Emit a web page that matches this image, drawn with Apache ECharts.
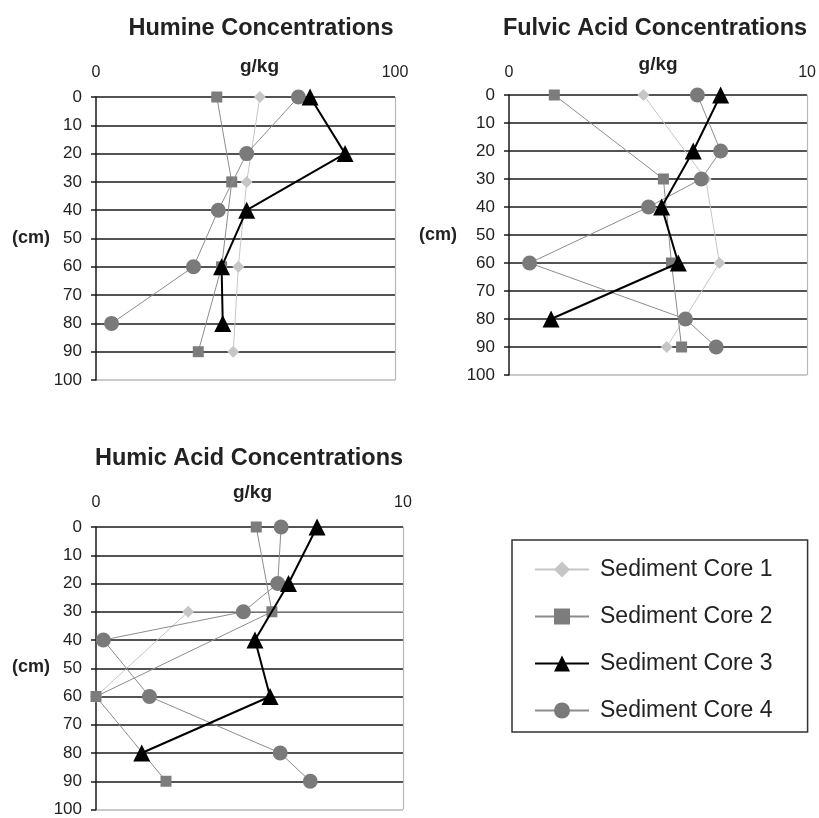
<!DOCTYPE html>
<html>
<head>
<meta charset="utf-8">
<script src="https://cdn.jsdelivr.net/npm/echarts@6/dist/echarts.min.js"></script>
<style>
html,body{margin:0;padding:0;background:#fff;}
#c{width:819px;height:818px;}
</style>
</head>
<body>
<div id="c"></div>
<script>
// Depths (cm) used by all panels
const depths = [0, 10, 20, 30, 40, 50, 60, 70, 80, 90];
const yTicks = [0, 10, 20, 30, 40, 50, 60, 70, 80, 90, 100];
const seriesNames = ['Sediment Core 1', 'Sediment Core 2', 'Sediment Core 3', 'Sediment Core 4'];
const panelTitles = ['Humine Concentrations', 'Fulvic Acid Concentrations', 'Humic Acid Concentrations'];
const xMax = [100, 10, 10];

// Humine (g/kg)
const humineCore1 = [54.8, null, null, 50.4, null, null, 47.6, null, null, 45.9];
const humineCore2 = [40.4, null, null, 45.4, null, null, 42.0, null, null, 34.2];
const humineCore3 = [71.6, null, 83.3, null, 50.4, null, 42.0, null, 42.4, null];
const humineCore4 = [67.7, null, 50.4, null, 40.9, null, 32.6, null, 5.2, null];

// Fulvic acid (g/kg)
const fulvicCore1 = [4.51, null, null, 6.6, null, null, 7.06, null, null, 5.29];
const fulvicCore2 = [1.52, null, null, 5.18, null, null, 5.45, null, null, 5.79];
const fulvicCore3 = [7.10, null, 6.18, null, 5.12, null, 5.68, null, 1.41, null];
const fulvicCore4 = [6.32, null, 7.10, 6.45, 4.68, null, 0.69, null, 5.92, 6.95];

// Humic acid (g/kg); core 1 line runs off the right edge at 30 cm
const humicCore1Depths = [30, 30, 60];
const humicCore1 = [10.25, 3.0, 0];
const humicCore2 = [5.22, null, null, 5.73, null, null, 0, null, null, 2.28];
const humicCore3 = [7.20, null, 6.27, null, 5.18, null, 5.67, null, 1.49, null];
const humicCore4 = [6.03, null, 5.92, 4.80, 0.24, null, 1.74, null, 6.0, 6.98];

const FONT = '"Liberation Sans", Arial, sans-serif';

function pairs(vals, ds) {
  const d = ds || depths;
  const out = [];
  vals.forEach((v, i) => { if (v !== null) out.push([v, d[i]]); });
  return out;
}

const styles = [
  { symbol: 'diamond', symbolSize: 12, color: '#c6c6c6', line: '#c6c6c6', width: 1, z: 2 },
  { symbol: 'rect', symbolSize: 11, color: '#7c7c7c', line: '#8c8c8c', width: 1, z: 3 },
  { symbol: 'triangle', symbolSize: 17, color: '#000000', line: '#000000', width: 2, z: 5 },
  { symbol: 'circle', symbolSize: 15, color: '#7a7a7a', line: '#8c8c8c', width: 1, z: 4 }
];

const grids = [
  { left: 96, top: 97, width: 299, height: 283 },
  { left: 509, top: 95, width: 301, height: 280 },
  { left: 96, top: 527, width: 307, height: 285 }
];

const panelData = [
  [pairs(humineCore1), pairs(humineCore2), pairs(humineCore3), pairs(humineCore4)],
  [pairs(fulvicCore1), pairs(fulvicCore2), pairs(fulvicCore3), pairs(fulvicCore4)],
  [pairs(humicCore1, humicCore1Depths), pairs(humicCore2), pairs(humicCore3), pairs(humicCore4)]
];

const gridLineColors = yTicks.map((t, i) => i === yTicks.length - 1 ? '#b8b8b8' : '#1a1a1a');
const nameGaps = [21, 21, 25];
const nameShift = [28, 0, 6];
const labelMargins = [16, 14, 16];

const xAxes = grids.map((g, i) => ({
  type: 'value', gridIndex: i, position: 'top', min: 0, max: xMax[i], interval: xMax[i],
  name: 'g/kg', nameLocation: 'middle', nameGap: nameGaps[i], nameMoveOverlap: false,
  nameTextStyle: { fontFamily: FONT, fontWeight: 'bold', fontSize: 19, color: '#222', padding: [0, 0, 0, nameShift[i]] },
  axisLine: { show: false, onZero: false },
  axisTick: { show: false },
  axisLabel: { fontFamily: FONT, fontSize: 16, color: '#222', margin: labelMargins[i] },
  splitLine: { show: true, lineStyle: { color: ['rgba(0,0,0,0)', '#b8b8b8'], width: 1.2 } }
}));

const yAxes = grids.map((g, i) => ({
  type: 'value', gridIndex: i, inverse: true, min: 0, max: 100, interval: 10,
  axisLine: { show: true, onZero: false, lineStyle: { color: '#1a1a1a', width: 1.5 } },
  axisTick: { show: true, length: 5, lineStyle: { color: '#1a1a1a', width: 1.5 } },
  axisLabel: { fontFamily: FONT, fontSize: 17, color: '#222', margin: 14 },
  splitLine: { show: true, lineStyle: { color: gridLineColors, width: 1.6 } }
}));

const series = [];
panelData.forEach((panel, gi) => {
  panel.forEach((data, si) => {
    const s = styles[si];
    const d = data.map((p, k) => {
      if (gi === 2 && si === 0 && k === 0) return { value: p, symbol: 'none' };
      return p;
    });
    series.push({
      name: seriesNames[si], type: 'line', xAxisIndex: gi, yAxisIndex: gi,
      data: d, symbol: s.symbol, symbolSize: s.symbolSize, z: s.z,
      clip: !(gi === 2 && si === 0),
      itemStyle: { color: s.color, borderColor: s.color, borderWidth: 0, opacity: 1 },
      lineStyle: { color: s.line, width: s.width },
      emphasis: { disabled: true }, animation: false
    });
  });
});

const titleCenters = [[256, 12], [650, 12], [244, 442]];
const titles = panelTitles.map((t, i) => ({
  text: t, left: titleCenters[i][0], top: titleCenters[i][1], textAlign: 'center',
  textStyle: { fontFamily: FONT, fontWeight: 'bold', fontSize: 23.5, color: '#222' }
}));

const chart = echarts.init(document.getElementById('c'), null, { renderer: 'canvas' });
chart.setOption({
  backgroundColor: '#fff',
  animation: false,
  title: titles,
  grid: grids,
  xAxis: xAxes,
  yAxis: yAxes,
  legend: {
    data: seriesNames, orient: 'vertical', left: 512, top: 540,
    padding: [18, 35, 10, 22], itemGap: 24, itemWidth: 54, itemHeight: 20,
    borderColor: '#333', borderWidth: 1.5,
    textStyle: { fontFamily: FONT, fontSize: 23, color: '#222', padding: [0, 0, 0, 6] }
  },
  graphic: [
    { type: 'text', left: 12, top: 229, style: { text: '(cm)', font: 'bold 18px ' + FONT, fill: '#222' } },
    { type: 'text', left: 419, top: 226, style: { text: '(cm)', font: 'bold 18px ' + FONT, fill: '#222' } },
    { type: 'text', left: 12, top: 658, style: { text: '(cm)', font: 'bold 18px ' + FONT, fill: '#222' } }
  ],
  series: series
});
</script>
</body>
</html>
